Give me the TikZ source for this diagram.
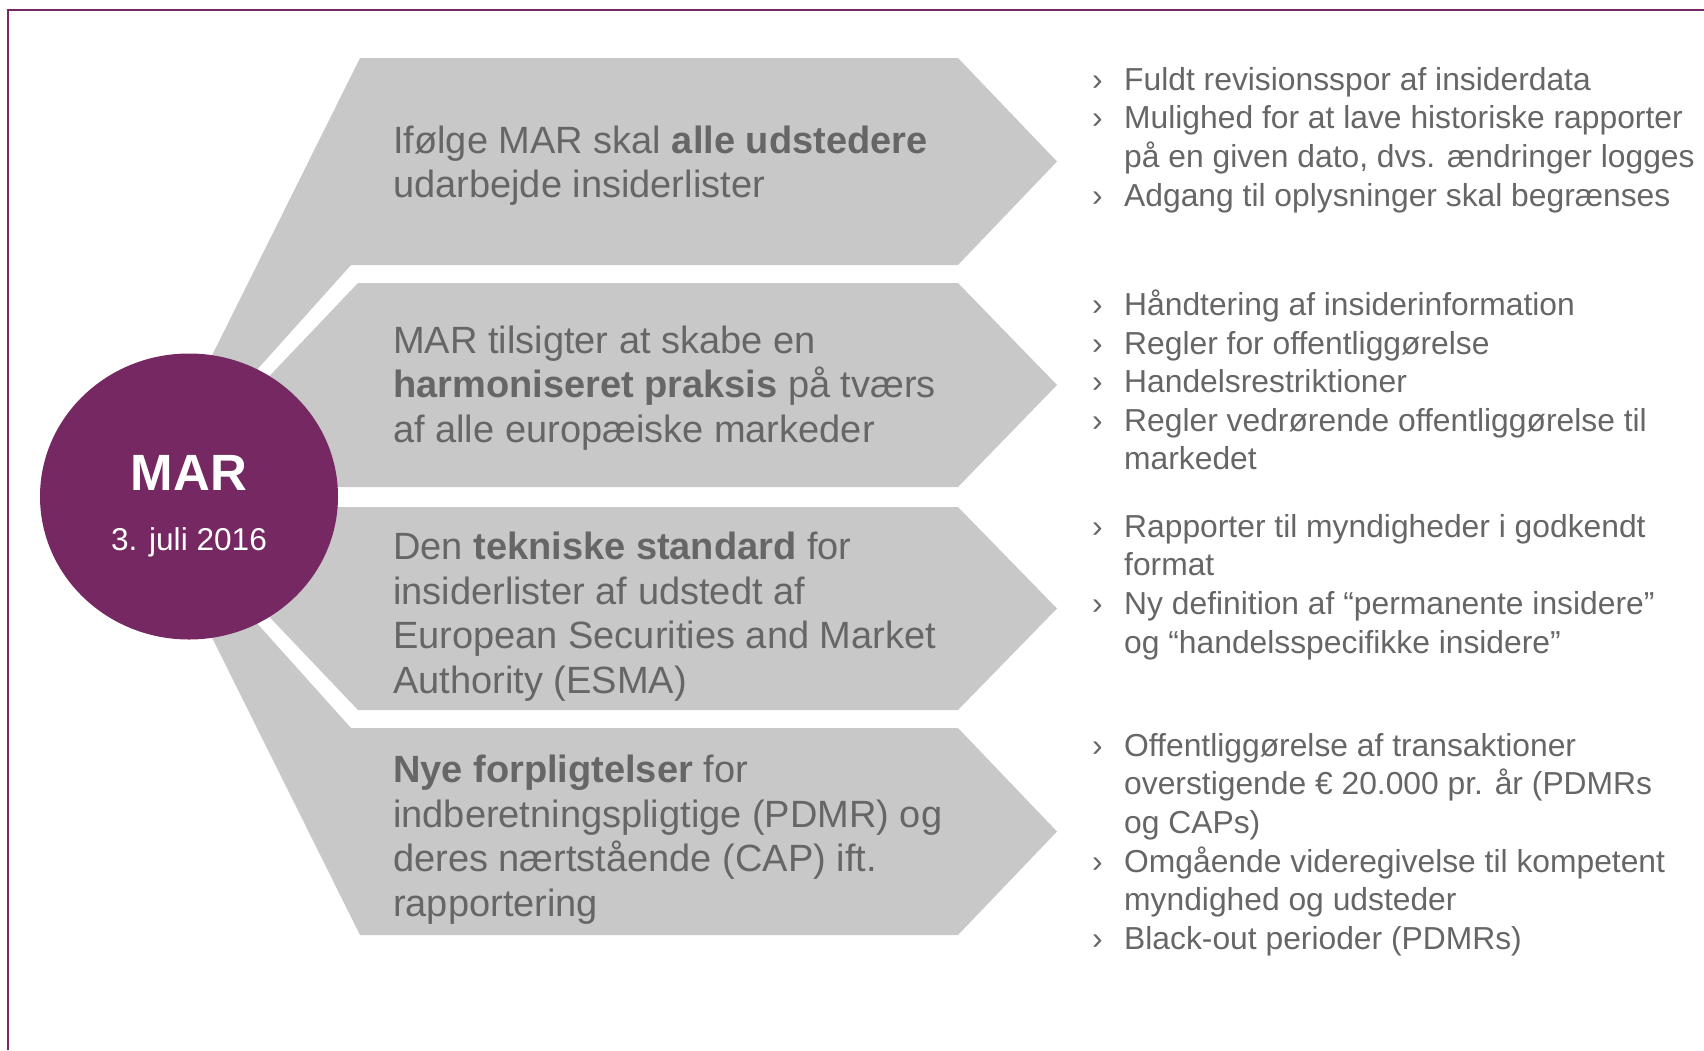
\documentclass[tikz,border=0pt]{standalone}
\usepackage{fontspec}
\setmainfont{Liberation Sans}
\usetikzlibrary{positioning,shapes.geometric}

\definecolor{marpurple}{RGB}{118,40,98}
\definecolor{chevgray}{RGB}{200,200,200}
\definecolor{txtgray}{RGB}{102,102,102}

\newcommand{\bul}{\makebox[32pt][l]{›}}
\newcommand{\ind}{\makebox[32pt]{}}

\begin{document}
\begin{tikzpicture}[x=1pt,y=-1pt,
        chev/.style={fill=chevgray},
        lefttext/.style={anchor=west, inner sep=0pt, align=left, text=txtgray,
                font=\fontsize{38}{44.6}\selectfont},
        righttext/.style={anchor=west, inner sep=0pt, align=left, text=txtgray,
                font=\fontsize{31.8}{38.6}\selectfont}]
    \useasboundingbox (0,0) rectangle (1704,1050);
    % frame
    \draw[marpurple, line width=2pt] (8,1050) -- (8,10) -- (1704,10);

    \begin{scope}
        \pgfmathsetmacro{\xr}{958}
        \pgfmathsetmacro{\xt}{1057}
        \fill[chev] (150,480) -- (360,58) -- (\xr,58) -- (\xt,161.5) -- (\xr,265) -- (351,265) -- (167,470) -- cycle;
        \fill[chev] (180,470) -- (358,283) -- (\xr,283) -- (\xt,385) -- (\xr,487) -- (150,487) -- cycle;
        \fill[chev] (150,507) -- (\xr,507) -- (\xt,608.5) -- (\xr,710) -- (358,710) -- (180,523) -- cycle;
        \fill[chev] (167,523) -- (351,728) -- (\xr,728) -- (\xt,831.5) -- (\xr,935) -- (360,935) -- (150,513) -- cycle;
    \end{scope}

    \node[ellipse, fill=marpurple, minimum width=298pt, minimum height=286pt] (mar) at (189,496.5) {};
    \node[anchor=base, text=white, font=\fontsize{51}{56}\selectfont\bfseries] (martitle) at (189,490) {MAR};
    \node[anchor=base, text=white, font=\fontsize{31.6}{36}\selectfont] (mardate) at (189,550) {3. juli 2016};

    \node[lefttext] (insider) at (393,165.5) {Ifølge MAR skal \textbf{alle udstedere}\\udarbejde insiderlister};
    \node[lefttext] (harmon) at (393,388) {MAR tilsigter at skabe en\\\textbf{harmoniseret praksis} på tværs\\af alle europæiske markeder};
    \node[lefttext] (esma) at (393,616.5) {Den \textbf{tekniske standard} for\\insiderlister af udstedt af\\European Securities and Market\\Authority (ESMA)};
    \node[lefttext] (pdmr) at (393,839.5) {\textbf{Nye forpligtelser} for\\indberetningspligtige (PDMR) og\\deres nærtstående (CAP) ift.\\rapportering};

    \node[righttext] (insiderpts) at (1092,140) {\bul Fuldt revisionsspor af insiderdata\\\bul Mulighed for at lave historiske rapporter\\\ind på en given dato, dvs. ændringer logges\\\bul Adgang til oplysninger skal begrænses};
    \node[righttext] (harmonpts) at (1092,380) {\bul Håndtering af insiderinformation\\\bul Regler for offentliggørelse\\\bul Handelsrestriktioner\\\bul Regler vedrørende offentliggørelse til\\\ind markedet};
    \node[righttext] (esmapts) at (1092,587) {\bul Rapporter til myndigheder i godkendt\\\ind format\\\bul Ny definition af “permanente insidere”\\\ind og “handelsspecifikke insidere”};
    \node[righttext] (pdmrpts) at (1092,844.6) {\bul Offentliggørelse af transaktioner\\\ind overstigende € 20.000 pr. år (PDMRs\\\ind og CAPs)\\\bul Omgående videregivelse til kompetent\\\ind myndighed og udsteder\\\bul Black-out perioder (PDMRs)};
\end{tikzpicture}
\end{document}
